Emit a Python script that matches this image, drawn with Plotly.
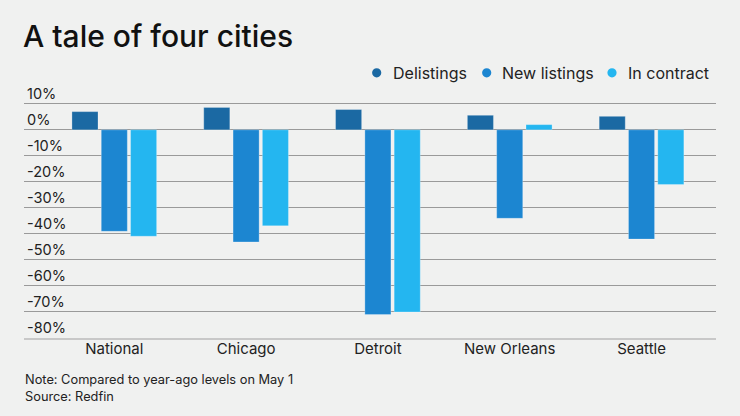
import plotly.graph_objects as go

categories = ["National", "Chicago", "Detroit", "New Orleans", "Seattle"]
delistings = [7.0, 8.6, 7.8, 5.6, 5.2]
new_listings = [-39.0, -43.1, -71.0, -34.0, -42.0]
in_contract = [-40.9, -36.9, -70.0, 2.0, -21.0]
series_names = ["Delistings", "New listings", "In contract"]
colors = ["#1b69a3", "#1c86d1", "#24b6f0"]
tick_vals = [10, 0, -10, -20, -30, -40, -50, -60, -70, -80]
tick_text = ["10%", "0%", "-10%", "-20%", "-30%", "-40%", "-50%", "-60%", "-70%", "-80%"]

W, H = 740, 416
Y_MIN, Y_MAX = -80, 18
L, R, B = 24, 716, 338.3
PX_PER = 234.3 / 90.0
T = B - (Y_MAX - Y_MIN) * PX_PER
FONT = "Inter"

fig = go.Figure()
for name, vals, col in zip(series_names, [delistings, new_listings, in_contract], colors):
    fig.add_trace(go.Bar(x=categories, y=vals, name=name,
                         marker=dict(color=col, line=dict(width=0.6, color="rgba(255,255,255,0.45)")),
                         showlegend=False))

def px_x(p):
    return (p - L) / (R - L)

def px_y(p):
    return (B - p) / (B - T)

shapes = []
annotations = []
leg = [(376.7, 391, "Delistings"), (486.7, 500, "New listings"), (612, 626, "In contract")]
for (cx, tx, name), col in zip(leg, colors):
    r = 4.6
    shapes.append(dict(type="circle", xref="paper", yref="paper",
                       x0=px_x(cx - r), x1=px_x(cx + r), y0=px_y(73 + r), y1=px_y(73 - r),
                       fillcolor=col, line=dict(width=0)))
    annotations.append(dict(text=name, xref="paper", yref="paper", x=px_x(tx), y=px_y(73),
                            xanchor="left", yanchor="middle", showarrow=False,
                            font=dict(family=FONT, size=16, color="#222")))
annotations.append(dict(text="Note: Compared to year-ago levels on May 1<br>Source: Redfin",
                        xref="paper", yref="paper", x=px_x(23), y=px_y(388.7), xanchor="left",
                        yanchor="middle", align="left", showarrow=False,
                        font=dict(family=FONT, size=12.8, color="#222")))

fig.update_layout(
    width=W, height=H,
    margin=dict(l=L, r=W - R, t=T, b=H - B, pad=0),
    paper_bgcolor="#f0f1f0", plot_bgcolor="#f0f1f0",
    barmode="group", bargap=0.333, bargroupgap=0.11,
    title=dict(text="A tale of four cities", xref="container", yref="container",
               x=23 / W, y=1 - 36 / H, xanchor="left", yanchor="middle",
               font=dict(family=FONT, size=30, color="#111", weight=500)),
    font=dict(family=FONT, color="#222"),
    shapes=shapes, annotations=annotations,
    xaxis=dict(range=[-0.685, 4.565], showgrid=False, showline=True, linecolor="#c8c8c8", linewidth=2,
               ticks="", tickfont=dict(family=FONT, size=15, color="#222"), ticklabelstandoff=-4),
    yaxis=dict(range=[Y_MIN, Y_MAX], tickvals=tick_vals, ticktext=tick_text, showgrid=True, gridcolor="#9a9a9a",
               gridwidth=1, zeroline=True, zerolinecolor="#9a9a9a", zerolinewidth=1, showline=False,
               ticklabelposition="inside top", tickfont=dict(family=FONT, size=14.5, color="#222"), ticks=""),
)

fig.write_html("out.html", config={"displayModeBar": False},
               post_script="document.body.style.margin='0';document.body.style.padding='0';")
